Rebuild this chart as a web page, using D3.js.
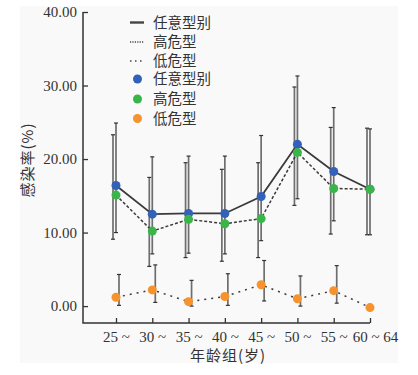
<!DOCTYPE html>
<html>
<head>
<meta charset="utf-8">
<script src="https://cdn.jsdelivr.net/npm/d3@7"></script>
<style>
  body { margin: 0; background: #fff; }
  svg text { fill: #333; }
  .num { font-family: "Liberation Serif", "Times New Roman", serif; font-size: 15px; }
  .cjk { font-family: "Noto Sans CJK SC", sans-serif; font-size: 14.5px; }
  .title { font-family: "Noto Sans CJK SC", sans-serif; font-size: 15px; letter-spacing: 1px; }
</style>
</head>
<body>
<div id="chart"></div>
<script>
'use strict';

// Age groups
const ages = ['25 ~', '30 ~', '35 ~', '40 ~', '45 ~', '50 ~', '55 ~', '60 ~ 64'];
const yTicks = [0, 10, 20, 30, 40];

// 任意型别
const anyRate = [16.4, 12.5, 12.6, 12.6, 14.9, 22.0, 18.3, 15.9];
const anyLow = [10.0, 7.1, 7.2, 7.1, 8.9, 14.6, 11.6, 9.7];
const anyHigh = [24.9, 20.3, 20.4, 20.4, 23.2, 31.3, 27.0, 24.1];

// 高危型
const highRate = [15.1, 10.2, 11.8, 11.2, 11.9, 20.9, 16.0, 15.9];
const highLow = [9.1, 5.4, 6.6, 6.1, 6.6, 13.7, 9.8, 9.7];
const highHigh = [23.3, 17.5, 19.5, 18.6, 19.5, 29.8, 24.3, 24.2];

// 低危型
const lowRate = [1.2, 2.2, 0.6, 1.3, 2.9, 1.0, 2.1, -0.2];
const lowLow = [0.1, 0.5, 0.0, 0.1, 0.7, 0.0, 0.4, null];
const lowHigh = [4.3, 5.6, 3.5, 4.4, 6.2, 4.1, 5.5, null];

const series = [
    {name: '任意型别', rate: anyRate, lo: anyLow, hi: anyHigh, color: '#3461b8', dash: null, legendDash: null, off: 0},
    {name: '高危型', rate: highRate, lo: highLow, hi: highHigh, color: '#3ab54a', dash: '3,2', legendDash: '1.2,1.2', off: -3},
    {name: '低危型', rate: lowRate, lo: lowLow, hi: lowHigh, color: '#f7932e', dash: '2,5', legendDash: '1.5,3.5', off: 3}
];

const W = 418, H = 375;
const svg = d3.select('#chart').append('svg')
    .attr('width', W)
    .attr('height', H);

// Panel background
svg.append('rect')
    .attr('x', 20).attr('y', 6)
    .attr('width', 378).attr('height', 357)
    .attr('fill', '#f9f9f9');

// Scales
const x = d3.scalePoint().domain(ages).range([116, 370]);
const y = d3.scaleLinear().domain([-2.3, 40]).range([323, 12]);
const axisLeftX = 83;
const axisBottomY = 323;

// Y axis
const yAxis = svg.append('g')
    .attr('transform', `translate(${axisLeftX},0)`)
    .call(d3.axisLeft(y).tickValues(yTicks).tickFormat(d3.format('.2f'))
        .tickSizeInner(-5).tickSizeOuter(0).tickPadding(6));
yAxis.select('.domain').remove();
yAxis.selectAll('line').attr('stroke', '#333').attr('stroke-width', 1.3);
yAxis.selectAll('text').attr('class', 'num').attr('fill', '#333').attr('font-family', null).attr('font-size', null);

// X axis
const xAxis = svg.append('g')
    .attr('transform', `translate(0,${axisBottomY})`)
    .call(d3.axisBottom(x).tickSizeInner(-5).tickSizeOuter(0).tickPadding(8));
xAxis.select('.domain').remove();
xAxis.selectAll('line').attr('stroke', '#333').attr('stroke-width', 1.3);
xAxis.selectAll('text').attr('class', 'num').attr('fill', '#333').attr('font-family', null).attr('font-size', null)
    .attr('dx', (d, i) => i === ages.length - 1 ? 5 : 0);

// Axis lines
svg.append('path')
    .attr('d', `M${axisLeftX},${y(40)}V${axisBottomY}H${x(ages[ages.length - 1])}`)
    .attr('fill', 'none')
    .attr('stroke', '#333')
    .attr('stroke-width', 1.5);

// Axis titles
svg.append('text')
    .attr('class', 'title')
    .attr('text-anchor', 'middle')
    .attr('transform', 'translate(33,160) rotate(-90)')
    .text('感染率(%)');
svg.append('text')
    .attr('class', 'title')
    .attr('text-anchor', 'middle')
    .attr('x', 228).attr('y', 361)
    .text('年龄组(岁)');

// Error bars
series.forEach(s => {
    const g = svg.append('g');
    ages.forEach((a, i) => {
        if (s.lo[i] == null) return;
        const cx = x(a) + s.off;
        g.append('line')
            .attr('x1', cx).attr('x2', cx)
            .attr('y1', y(s.lo[i])).attr('y2', y(s.hi[i]))
            .attr('stroke', '#6e6e6e').attr('stroke-width', 1.7);
        [s.lo[i], s.hi[i]].forEach(v => {
            g.append('line')
                .attr('x1', cx - 2).attr('x2', cx + 2)
                .attr('y1', y(v)).attr('y2', y(v))
                .attr('stroke', '#333').attr('stroke-width', 1.2);
        });
    });
});

// Lines
const line = d3.line()
    .x((d, i) => x(ages[i]))
    .y(d => y(d));
series.forEach(s => {
    svg.append('path')
        .attr('d', line(s.rate))
        .attr('fill', 'none')
        .attr('stroke', '#3a3a3a')
        .attr('stroke-width', s.dash ? 1.5 : 1.8)
        .attr('stroke-dasharray', s.dash);
});

// Points
series.forEach(s => {
    svg.append('g').selectAll('circle')
        .data(s.rate)
        .join('circle')
        .attr('cx', (d, i) => x(ages[i]))
        .attr('cy', d => y(d))
        .attr('r', 4.5)
        .attr('fill', s.color);
});

// Legend
const legend = svg.append('g');
const rowY = [22.5, 42, 61, 79, 99, 118.5];
series.forEach((s, i) => {
    legend.append('line')
        .attr('x1', 130).attr('x2', 144)
        .attr('y1', rowY[i]).attr('y2', rowY[i])
        .attr('stroke', '#444')
        .attr('stroke-width', i === 0 ? 2.4 : 1.3)
        .attr('stroke-dasharray', s.legendDash);
    legend.append('text')
        .attr('class', 'cjk')
        .attr('x', 153).attr('y', rowY[i])
        .attr('dy', '0.35em')
        .text(s.name);
});
series.forEach((s, i) => {
    legend.append('circle')
        .attr('cx', 137.5).attr('cy', rowY[i + 3])
        .attr('r', 4.5)
        .attr('fill', s.color);
    legend.append('text')
        .attr('class', 'cjk')
        .attr('x', 153).attr('y', rowY[i + 3])
        .attr('dy', '0.35em')
        .text(s.name);
});
</script>
</body>
</html>
